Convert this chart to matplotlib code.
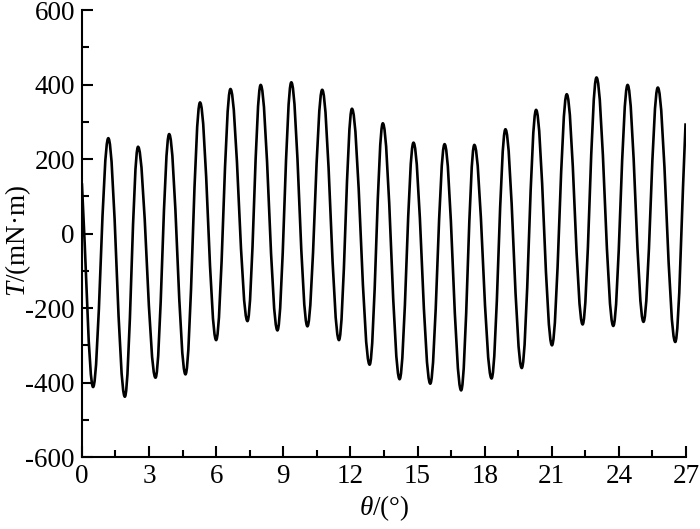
import matplotlib
matplotlib.use('Agg')
import matplotlib.pyplot as plt
from matplotlib.path import Path
from matplotlib.patches import PathPatch
from matplotlib.ticker import MultipleLocator

# extrema of the torque curve (plus first and last point)
theta_ext = [0.00, 0.50, 1.18, 1.92, 2.51, 3.29, 3.90, 4.63, 5.28, 6.00,
             6.64, 7.40, 7.99, 8.74, 9.36, 10.08, 10.74, 11.49, 12.07, 12.86,
             13.45, 14.20, 14.82, 15.57, 16.21, 16.95, 17.54, 18.31, 18.93, 19.66,
             20.30, 21.01, 21.67, 22.38, 23.00, 23.75, 24.39, 25.10, 25.74, 26.52,
             26.98]
torque_ext = [135, -412, 256, -438, 233, -387, 267, -378, 352, -286,
              388, -235, 399, -260, 406, -249, 386, -286, 335, -352,
              296, -391, 244, -403, 240, -421, 238, -389, 280, -361,
              332, -300, 374, -244, 419, -248, 399, -237, 392, -291,
              296]

x_ticks = [0, 3, 6, 9, 12, 15, 18, 21, 24, 27]
y_ticks = [-600, -400, -200, 0, 200, 400, 600]

plt.rcParams['font.family'] = ['Liberation Serif', 'DejaVu Serif']
plt.rcParams['mathtext.fontset'] = 'custom'
plt.rcParams['mathtext.rm'] = 'Liberation Serif'
plt.rcParams['mathtext.it'] = 'Liberation Serif:italic'
plt.rcParams['axes.unicode_minus'] = False

fig = plt.figure(figsize=(7, 5.29), dpi=100)
ax = fig.add_axes([0.117, 0.136, 0.863, 0.845])

# smooth curve through the extrema: cubic bezier with flat tangents at peaks
c = 0.3634
verts = [(theta_ext[0], torque_ext[0])]
codes = [Path.MOVETO]
last = len(theta_ext) - 1
for i in range(last):
    x0, y0 = theta_ext[i], torque_ext[i]
    x1, y1 = theta_ext[i + 1], torque_ext[i + 1]
    dx = x1 - x0
    if i == 0:
        p1 = (x0 + dx / 3, y0 + (y1 - y0) / 3)
    else:
        p1 = (x0 + c * dx, y0)
    if i + 1 == last:
        p2 = (x1 - dx / 3, y1 - (y1 - y0) / 3)
    else:
        p2 = (x1 - c * dx, y1)
    verts += [p1, p2, (x1, y1)]
    codes += [Path.CURVE4] * 3

curve = PathPatch(Path(verts, codes), fill=False, edgecolor='black',
                  linewidth=1.9, joinstyle='round', capstyle='butt')
ax.add_patch(curve)

ax.set_xlim(0, 27)
ax.set_ylim(-600, 600)
ax.set_xticks(x_ticks)
ax.set_yticks(y_ticks)
ax.xaxis.set_minor_locator(MultipleLocator(1.5))
ax.yaxis.set_minor_locator(MultipleLocator(100))

ax.spines['top'].set_visible(False)
ax.spines['right'].set_visible(False)
for s in ['left', 'bottom']:
    ax.spines[s].set_linewidth(1.5)

ax.tick_params(which='major', direction='in', length=8, width=1.5,
               labelsize=19.5, pad=5)
ax.tick_params(which='minor', direction='in', length=5, width=1.5)

ax.set_xlabel(r'$\theta$/(°)', fontsize=19.5, labelpad=3)
ax.set_ylabel(r'$T$/(mN·m)', fontsize=19.5)
ax.yaxis.set_label_coords(-0.081, 0.484)

fig.savefig('out.png', dpi=100)
